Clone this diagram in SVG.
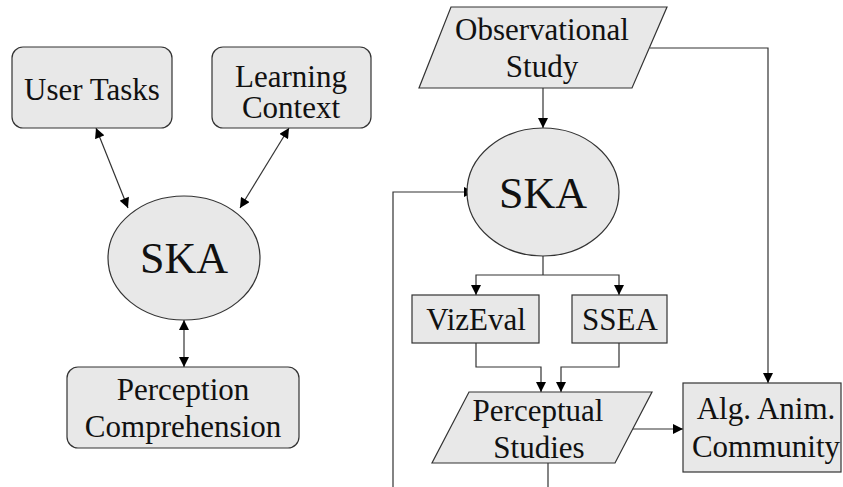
<svg xmlns="http://www.w3.org/2000/svg" width="843" height="487" viewBox="0 0 843 487">
  <style>
    .node { fill: #e8e8e8; stroke: #333333; stroke-width: 1.2; }
    .label { font-size: 31px; fill: #111111; text-anchor: middle; }
    .big { font-size: 44px; }
    .edge { fill: none; stroke: #333333; stroke-width: 1.2; }
    .arrow { marker-end: url(#head); }
    .both { marker-start: url(#head); marker-end: url(#head); }
  </style>
  <defs>
    <marker id="head" viewBox="0 0 10 10" refX="10" refY="5" markerWidth="11" markerHeight="10" markerUnits="userSpaceOnUse" orient="auto-start-reverse">
      <path d="M0,0 L10,5 L0,10 z" fill="#000000"/>
    </marker>
  </defs>

  <rect width="843" height="487" fill="#ffffff"/>

  <!-- connectors -->
  <g id="connectors">
    <!-- left diagram -->
    <line class="edge both" x1="96" y1="128" x2="128" y2="208"/>
    <line class="edge both" x1="289" y1="128" x2="240" y2="208"/>
    <line class="edge both" x1="184" y1="320" x2="184" y2="367"/>
    <!-- right diagram -->
    <line class="edge arrow" x1="543" y1="88" x2="543" y2="128"/>
    <polyline class="edge arrow" points="650,48 768,48 768,383"/>
    <polyline class="edge arrow" points="393,487 393,192 474,192"/>
    <line class="edge" x1="543" y1="256" x2="543" y2="275"/>
    <polyline class="edge arrow" points="543,275 476,275 476,295"/>
    <polyline class="edge arrow" points="543,275 619,275 619,295"/>
    <polyline class="edge arrow" points="476,343 476,367 541,367 541,392"/>
    <polyline class="edge arrow" points="619,343 619,367 561,367 561,392"/>
    <line class="edge arrow" x1="632" y1="429" x2="683" y2="429"/>
    <line class="edge" x1="548" y1="463" x2="548" y2="487"/>
  </g>

  <g font-family="Liberation Serif, Times New Roman, Tinos, Noto Serif, DejaVu Serif, serif">
  <!-- left diagram nodes -->
  <g id="user-tasks">
    <rect class="node" x="12" y="47" width="160" height="81" rx="11"/>
    <text class="label" x="92" y="100">User Tasks</text>
  </g>
  <g id="learning-context">
    <rect class="node" x="212" y="47" width="159" height="81" rx="11"/>
    <text class="label" x="291" y="87">Learning</text>
    <text class="label" x="291" y="118">Context</text>
  </g>
  <g id="ska-left">
    <ellipse class="node" cx="184" cy="258" rx="76" ry="62"/>
    <text class="label big" x="184" y="273">SKA</text>
  </g>
  <g id="perception-comprehension">
    <rect class="node" x="67" y="367" width="232" height="81" rx="11"/>
    <text class="label" x="183" y="400">Perception</text>
    <text class="label" x="183" y="437">Comprehension</text>
  </g>

  <!-- right diagram nodes -->
  <g id="observational-study">
    <polygon class="node" points="451,7 667,7 632,88 419,88"/>
    <text class="label" x="542" y="40">Observational</text>
    <text class="label" x="542" y="77">Study</text>
  </g>
  <g id="ska-right">
    <ellipse class="node" cx="543" cy="192" rx="76" ry="64"/>
    <text class="label big" x="543" y="208">SKA</text>
  </g>
  <g id="vizeval">
    <rect class="node" x="412" y="295" width="127" height="48"/>
    <text class="label" x="476" y="330">VizEval</text>
  </g>
  <g id="ssea">
    <rect class="node" x="572" y="295" width="95" height="48"/>
    <text class="label" x="620" y="330">SSEA</text>
  </g>
  <g id="perceptual-studies">
    <polygon class="node" points="469,392 652,392 615,463 432,463"/>
    <text class="label" x="538" y="421">Perceptual</text>
    <text class="label" x="539" y="458">Studies</text>
  </g>
  <g id="alg-anim-community">
    <rect class="node" x="683" y="383" width="158" height="89"/>
    <text class="label" x="766" y="419">Alg. Anim.</text>
    <text class="label" x="766" y="457">Community</text>
  </g>
  </g>
</svg>
